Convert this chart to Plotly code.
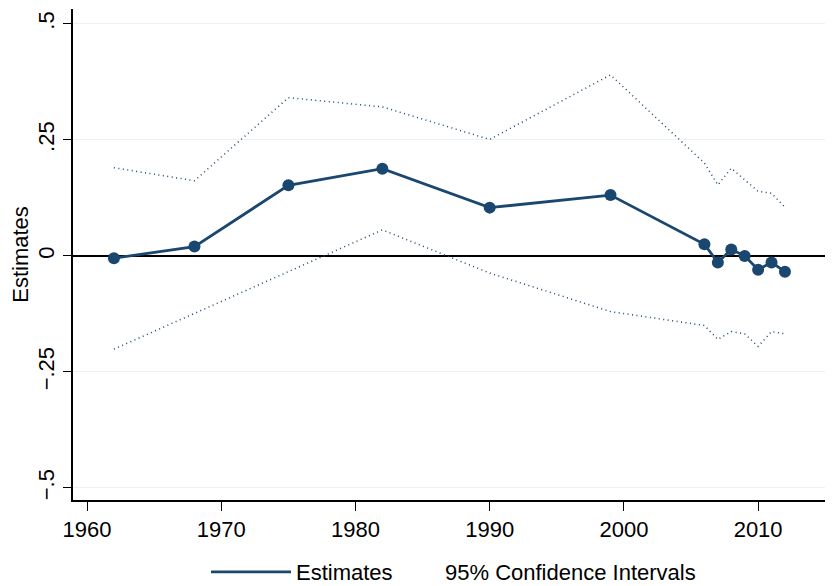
import plotly.graph_objects as go

years = [1962, 1968, 1975, 1982, 1990, 1999, 2006, 2007, 2008, 2009, 2010, 2011, 2012]
estimates = [-0.005, 0.020, 0.152, 0.188, 0.104, 0.131, 0.025, -0.014, 0.014, 0.000, -0.030, -0.014, -0.034]
upper_ci = [0.190, 0.162, 0.341, 0.321, 0.251, 0.390, 0.200, 0.153, 0.189, 0.164, 0.139, 0.135, 0.105]
lower_ci = [-0.201, -0.124, -0.034, 0.056, -0.037, -0.120, -0.150, -0.180, -0.163, -0.168, -0.195, -0.163, -0.168]

y_tickvals = [-0.5, -0.25, 0, 0.25, 0.5]
y_ticktext = ["\u2212.5", "\u2212.25", "0", ".25", ".5"]
x_tickvals = [1960, 1970, 1980, 1990, 2000, 2010]

navy = "#1a476f"
font = "Liberation Sans, Arial, sans-serif"
fs = 22
W, H = 825, 578

fig = go.Figure()
fig.add_trace(go.Scatter(x=years, y=upper_ci, mode="lines",
                         line=dict(color=navy, width=1.5, dash="1px,3.5px"),
                         showlegend=False, hoverinfo="skip"))
fig.add_trace(go.Scatter(x=years, y=lower_ci, mode="lines",
                         line=dict(color=navy, width=1.5, dash="1px,3.5px"),
                         showlegend=False, hoverinfo="skip"))
fig.add_trace(go.Scatter(x=years, y=estimates, mode="lines+markers", name="Estimates",
                         line=dict(color=navy, width=2.8),
                         marker=dict(color=navy, size=12), showlegend=False))
fig.add_trace(go.Scatter(x=[None], y=[None], mode="lines", name="Estimates",
                         line=dict(color=navy, width=2.8), legend="legend"))
fig.add_trace(go.Scatter(x=[None], y=[None], mode="lines", name="95% Confidence Intervals",
                         line=dict(color="rgba(0,0,0,0)", width=1), legend="legend2"))

fig.update_layout(
    width=W, height=H,
    margin=dict(l=65, r=0, t=1, b=86),
    paper_bgcolor="white", plot_bgcolor="white",
    font=dict(family=font, size=fs, color="black"),
    showlegend=True,
    legend=dict(orientation="h", x=198 / W, xanchor="left", xref="container",
                y=1 - 564 / H, yanchor="middle", yref="container",
                font=dict(size=fs), itemwidth=80, bgcolor="rgba(0,0,0,0)"),
    legend2=dict(orientation="h", x=397 / W, xanchor="left", xref="container",
                 y=1 - 564 / H, yanchor="middle", yref="container",
                 font=dict(size=fs), itemwidth=30, bgcolor="rgba(0,0,0,0)"),
    xaxis=dict(range=[1958.95, 2015.58], tickvals=x_tickvals, showgrid=False,
               showline=True, linecolor="black", linewidth=1.5,
               ticks="outside", ticklen=9, tickcolor="black", tickwidth=1,
               zeroline=False, tickfont=dict(size=fs), automargin=False),
    yaxis=dict(range=[-0.526, 0.532], tickvals=y_tickvals, ticktext=y_ticktext,
               tickangle=-90, showgrid=True, gridcolor="#eaf2f3", gridwidth=1,
               showline=True, linecolor="black", linewidth=1.5,
               ticks="outside", ticklen=8, tickcolor="black", tickwidth=1,
               zeroline=True, zerolinecolor="black", zerolinewidth=2,
               title=dict(text="Estimates", font=dict(size=fs), standoff=2),
               tickfont=dict(size=fs), automargin=False),
)

fig.write_html("out.html")
